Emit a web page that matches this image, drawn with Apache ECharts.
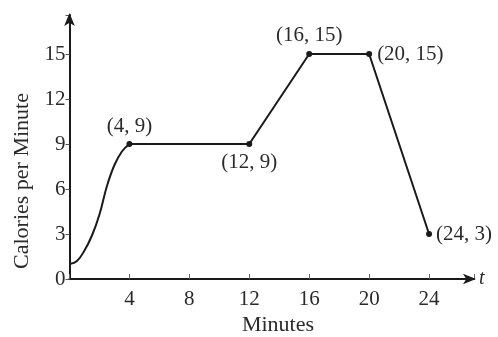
<!DOCTYPE html>
<html>
<head>
<meta charset="utf-8">
<script src="https://cdn.jsdelivr.net/npm/echarts@6/dist/echarts.min.js"></script>
<style>
  html, body { margin: 0; padding: 0; background: #fff; }
  #chart { width: 498px; height: 337px; }
</style>
</head>
<body>
<div id="chart"></div>
<script>
// Warm-up phase: calories per minute rising smoothly from t = 0 to t = 4
const warmupMinutes = [0, 0.5, 1, 1.5, 2, 2.5, 3, 3.5, 4];
const warmupCalories = [1, 1.2, 1.9, 2.9, 4.3, 6.2, 7.6, 8.5, 9];

// Piecewise-linear part of the workout, with labelled corner points
const cornerMinutes = [4, 12, 16, 20, 24];
const cornerCalories = [9, 9, 15, 15, 3];

// Axis tick values
const minuteTicks = [4, 8, 12, 16, 20, 24];
const calorieTicks = [0, 3, 6, 9, 12, 15];

const SERIF = "'Liberation Serif', 'Times New Roman', 'DejaVu Serif', serif";
const INK = '#1a1a1a';
const TEXT = '#2a2a2a';

// Where each corner label sits relative to its point
const labelPlacement = {
  4:  { position: 'top', distance: 4 },
  12: { position: 'bottom', distance: 5 },
  16: { position: 'top', distance: 5 },
  20: { position: 'right', distance: 5 },
  24: { position: 'right', distance: 4 }
};

const cornerData = cornerMinutes.map((t, i) => ({
  value: [t, cornerCalories[i]],
  label: {
    show: true,
    position: labelPlacement[t].position,
    distance: labelPlacement[t].distance,
    formatter: p => '(' + p.value[0] + ', ' + p.value[1] + ')'
  }
}));

const chart = echarts.init(document.getElementById('chart'), null, { renderer: 'canvas' });

chart.setOption({
  animation: false,
  backgroundColor: '#ffffff',
  grid: { left: 69.5, right: 24, top: 15, bottom: 58, containLabel: false },
  xAxis: {
    type: 'value',
    min: 0,
    max: 27,
    interval: 4,
    name: 't',
    nameLocation: 'end',
    nameGap: 5,
    nameTextStyle: { fontFamily: SERIF, fontSize: 20, fontStyle: 'italic', color: TEXT },
    axisLine: {
      show: true,
      onZero: false,
      symbol: ['none', 'arrow'],
      symbolSize: [8, 13],
      symbolOffset: [0, 2],
      lineStyle: { color: INK, width: 2 }
    },
    axisTick: { show: true, inside: true, length: 5, lineStyle: { color: '#666', width: 1 } },
    axisLabel: {
      margin: 10,
      fontFamily: SERIF,
      fontSize: 21,
      color: TEXT,
      formatter: v => (minuteTicks.indexOf(v) >= 0 ? String(v) : '')
    },
    splitLine: { show: false }
  },
  yAxis: {
    type: 'value',
    min: 0,
    max: 17.6,
    interval: 3,
    axisLine: {
      show: true,
      onZero: false,
      symbol: ['none', 'arrow'],
      symbolSize: [8, 13],
      symbolOffset: [0, 2],
      lineStyle: { color: INK, width: 2 }
    },
    axisTick: { show: true, inside: false, length: 4, lineStyle: { color: '#555', width: 1 } },
    axisLabel: {
      margin: 4,
      fontFamily: SERIF,
      fontSize: 21,
      color: TEXT,
      formatter: v => (calorieTicks.indexOf(v) >= 0 ? String(v) : '')
    },
    splitLine: { show: false }
  },
  graphic: [
    {
      type: 'text',
      x: 22,
      y: 181,
      rotation: Math.PI / 2,
      style: {
        text: 'Calories per Minute',
        fontFamily: SERIF,
        fontSize: 22,
        fill: TEXT,
        textAlign: 'center',
        textVerticalAlign: 'middle'
      }
    },
    {
      type: 'text',
      x: 278,
      y: 325,
      style: {
        text: 'Minutes',
        fontFamily: SERIF,
        fontSize: 22,
        fill: TEXT,
        textAlign: 'center',
        textVerticalAlign: 'middle'
      }
    }
  ],
  series: [
    {
      type: 'line',
      data: warmupMinutes.map((t, i) => [t, warmupCalories[i]]),
      smooth: 0.4,
      showSymbol: false,
      symbol: 'none',
      lineStyle: { color: INK, width: 2 },
      z: 3
    },
    {
      type: 'line',
      data: cornerData,
      smooth: false,
      symbol: 'circle',
      symbolSize: 6,
      showSymbol: true,
      itemStyle: { color: INK },
      lineStyle: { color: INK, width: 2 },
      label: { fontFamily: SERIF, fontSize: 21, color: TEXT },
      z: 4
    }
  ]
});
</script>
</body>
</html>
